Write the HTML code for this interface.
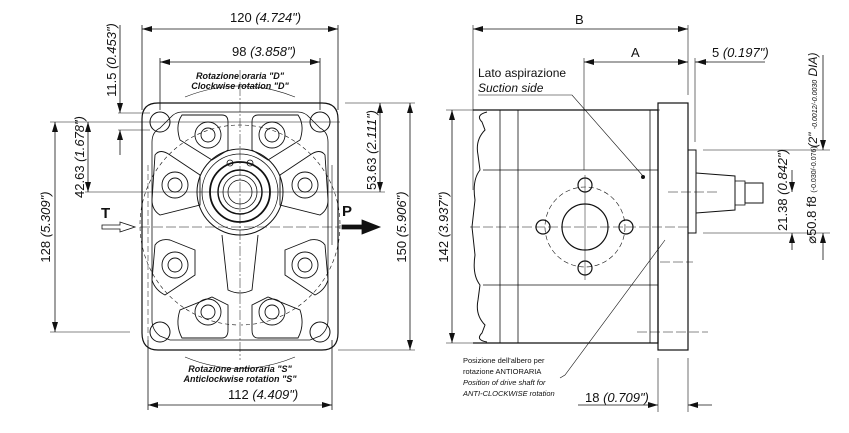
<!DOCTYPE html>
<html><head><meta charset="utf-8"><style>
html,body{margin:0;padding:0;background:#fff}
svg{display:block}
text{font-family:"Liberation Sans",sans-serif;fill:#111}
.i{font-style:italic}
</style></head><body>
<svg width="849" height="433" viewBox="0 0 849 433" xmlns="http://www.w3.org/2000/svg">
<defs>
<marker id="a" viewBox="0 0 10 6" refX="10" refY="3" markerWidth="10" markerHeight="6" orient="auto-start-reverse" markerUnits="userSpaceOnUse"><path d="M0,0 L10,3 L0,6z" fill="#111"/></marker>
</defs>
<g stroke="#111" fill="none" stroke-width="0.8">
<line x1="142" y1="25" x2="142" y2="110"/><line x1="338" y1="25" x2="338" y2="110"/>
<line x1="142" y1="29" x2="338" y2="29" marker-start="url(#a)" marker-end="url(#a)"/>
<line x1="160" y1="58" x2="160" y2="110"/><line x1="320" y1="58" x2="320" y2="110"/>
<line x1="160" y1="62" x2="320" y2="62" marker-start="url(#a)" marker-end="url(#a)"/>
<line x1="148" y1="340" x2="148" y2="410"/><line x1="332" y1="340" x2="332" y2="410"/>
<line x1="148" y1="405" x2="332" y2="405" marker-start="url(#a)" marker-end="url(#a)"/>
<line x1="50" y1="122" x2="340" y2="122" stroke-width="0.6"/>
<line x1="50" y1="332" x2="130" y2="332" stroke-width="0.6"/>
<line x1="55" y1="122" x2="55" y2="332" marker-start="url(#a)" marker-end="url(#a)"/>
<line x1="85" y1="192" x2="385" y2="192" stroke-width="0.6"/>
<line x1="88" y1="122" x2="88" y2="192" marker-start="url(#a)" marker-end="url(#a)"/>
<line x1="118" y1="113" x2="150" y2="113" stroke-width="0.6"/>
<line x1="118" y1="130" x2="150" y2="130" stroke-width="0.6"/>
<line x1="120" y1="25" x2="120" y2="113" marker-end="url(#a)"/>
<line x1="120" y1="155" x2="120" y2="130" marker-end="url(#a)"/>
<line x1="345" y1="103" x2="415" y2="103" stroke-width="0.6"/>
<line x1="338" y1="350" x2="415" y2="350" stroke-width="0.6"/>
<line x1="410" y1="103" x2="410" y2="350" marker-start="url(#a)" marker-end="url(#a)"/>
<line x1="380" y1="103" x2="380" y2="192" marker-start="url(#a)" marker-end="url(#a)"/>
<path d="M158,103 H322 Q338,103 338,119 V333 Q338,350 322,350 H158 Q142,350 142,333 V119 Q142,103 158,103Z" stroke-width="1.2"/>
<path d="M152,142 Q152,132 160,128 L170,118 Q175,112 182,112 H298 Q305,112 310,118 L320,128 Q328,132 328,142 V320 Q328,330 320,336 L310,340 H170 L160,336 Q152,330 152,320Z"/>
<circle cx="240" cy="225" r="100" stroke-dasharray="4,3" stroke-width="0.6"/>
<g stroke-width="1">
<circle cx="160" cy="122" r="10"/><circle cx="320" cy="122" r="10"/>
<circle cx="160" cy="332" r="10"/><circle cx="320" cy="332" r="10"/>
</g>
<g stroke-width="0.9">
<path d="M182,115 H222 Q228,115 228,122 V150 L212,160 L180,140 Q175,125 182,115Z"/>
<path d="M298,115 H258 Q252,115 252,122 V150 L268,160 L300,140 Q305,125 298,115Z"/>
<path d="M155,155 Q160,148 170,155 L200,175 V205 L160,215 Q152,210 152,200Z"/>
<path d="M325,155 Q320,148 310,155 L280,175 V205 L320,215 Q328,210 328,200Z"/>
<path d="M155,245 Q160,238 170,240 L195,250 V275 L165,295 Q155,290 152,280Z"/>
<path d="M325,245 Q320,238 310,240 L285,250 V275 L315,295 Q325,290 328,280Z"/>
<path d="M182,338 H222 Q228,338 228,330 V305 L212,297 L180,310 Q175,325 182,338Z"/>
<path d="M298,338 H258 Q252,338 252,330 V305 L268,297 L300,310 Q305,325 298,338Z"/>
<path d="M222,235 L228,290 Q240,296 252,290 L258,235"/>
</g>
<g stroke-width="0.9">
<circle cx="208" cy="135" r="13"/><circle cx="272" cy="135" r="13"/>
<circle cx="175" cy="185" r="13"/><circle cx="305" cy="185" r="13"/>
<circle cx="175" cy="265" r="13"/><circle cx="305" cy="265" r="13"/>
<circle cx="208" cy="312" r="13"/><circle cx="272" cy="312" r="13"/>
<circle cx="208" cy="135" r="7"/><circle cx="272" cy="135" r="7"/>
<circle cx="175" cy="185" r="7"/><circle cx="305" cy="185" r="7"/>
<circle cx="175" cy="265" r="7"/><circle cx="305" cy="265" r="7"/>
<circle cx="208" cy="312" r="7"/><circle cx="272" cy="312" r="7"/>
</g>
<circle cx="240" cy="192" r="43" stroke-width="1"/>
<circle cx="240" cy="192" r="38"/>
<circle cx="240" cy="192" r="30" stroke-width="1.8"/>
<circle cx="240" cy="192" r="22" stroke-width="1.4"/>
<circle cx="240" cy="192" r="17"/>
<circle cx="240" cy="192" r="12"/>
<circle cx="230" cy="163" r="3"/><circle cx="250" cy="163" r="3"/>
<line x1="240" y1="70" x2="240" y2="360" stroke-width="0.5" stroke-dasharray="10,2,2,2"/>
<line x1="140" y1="227" x2="340" y2="227" stroke-width="0.5" stroke-dasharray="10,3"/>
<line x1="148" y1="165" x2="148" y2="340" stroke-width="0.5" stroke-dasharray="6,3"/>
<line x1="332" y1="165" x2="332" y2="245" stroke-width="0.6"/>
<path d="M185,97 Q240,75 295,97" stroke-width="0.6"/>
<path d="M185,357 Q240,380 295,357" stroke-width="0.6"/>
<path d="M102,225 H120 V222 L135,227 L120,232 V229 H102Z" stroke-width="0.8"/>
<path d="M342,225 H362 V220 L380,227 L362,234 V229 H342Z" fill="#111"/>

<line x1="473" y1="25" x2="473" y2="190" stroke-width="0.6"/>
<line x1="688" y1="25" x2="688" y2="95" stroke-width="0.6"/>
<line x1="473" y1="29" x2="688" y2="29" marker-start="url(#a)" marker-end="url(#a)"/>
<line x1="584" y1="58" x2="584" y2="170" stroke-width="0.6"/>
<line x1="584" y1="62" x2="688" y2="62" marker-start="url(#a)" marker-end="url(#a)"/>
<line x1="695" y1="58" x2="695" y2="142" stroke-width="0.6"/>
<line x1="695" y1="62" x2="765" y2="62"/>
<line x1="708" y1="62" x2="696" y2="62" marker-end="url(#a)"/>
<line x1="446" y1="110" x2="660" y2="110" stroke-width="0.6"/>
<line x1="446" y1="343" x2="520" y2="343" stroke-width="0.6"/>
<line x1="452" y1="110" x2="452" y2="343" marker-start="url(#a)" marker-end="url(#a)"/>
<path d="M473,110 H658 V343 H473" stroke-width="1.2"/>
<path d="M487,112 Q475,115 482,122 L485,130 Q475,140 478,155 L480,170 Q472,180 475,200 L472,227 L475,255 Q472,275 480,285 L478,300 Q475,315 485,325 L482,333 Q475,340 487,342" stroke-width="1"/>
<line x1="500" y1="110" x2="500" y2="343"/>
<line x1="518" y1="110" x2="518" y2="343"/>
<line x1="650" y1="110" x2="650" y2="343"/>
<line x1="483" y1="170" x2="658" y2="170"/>
<line x1="483" y1="285" x2="658" y2="285"/>
<rect x="658" y="103" width="30" height="247" stroke-width="1.2"/>
<rect x="688" y="150" width="8" height="83" stroke-width="1"/>
<path d="M696,173 L735,176 V210 L696,213" stroke-width="1"/>
<rect x="735" y="181" width="10" height="24"/>
<rect x="745" y="183" width="18" height="20" stroke-width="1"/>
<circle cx="585" cy="227" r="23" stroke-width="1.2"/>
<circle cx="585" cy="227" r="40" stroke-dasharray="5,3" stroke-width="0.6"/>
<circle cx="585" cy="185" r="7" stroke-width="1.2"/><circle cx="585" cy="268" r="7" stroke-width="1.2"/>
<circle cx="543" cy="227" r="7" stroke-width="1.2"/><circle cx="626" cy="227" r="7" stroke-width="1.2"/>
<line x1="470" y1="227" x2="690" y2="227" stroke-width="0.5" stroke-dasharray="10,3"/>
<line x1="585" y1="175" x2="585" y2="280" stroke-width="0.5"/>
<line x1="668" y1="192" x2="720" y2="192" stroke-width="0.5" stroke-dasharray="10,3"/>
<line x1="660" y1="262" x2="693" y2="262" stroke-width="0.5" stroke-dasharray="10,3"/>
<line x1="637" y1="332" x2="708" y2="332" stroke-width="0.5" stroke-dasharray="10,3"/>
<line x1="703" y1="150" x2="830" y2="150" stroke-width="0.6"/>
<line x1="703" y1="233" x2="830" y2="233" stroke-width="0.6"/>
<line x1="792" y1="170" x2="792" y2="192" marker-end="url(#a)"/>
<line x1="792" y1="250" x2="792" y2="233" marker-end="url(#a)"/>
<line x1="823" y1="55" x2="823" y2="150" marker-end="url(#a)"/>
<line x1="823" y1="260" x2="823" y2="233" marker-end="url(#a)"/>
<line x1="658" y1="358" x2="658" y2="412" stroke-width="0.6"/>
<line x1="688" y1="358" x2="688" y2="412" stroke-width="0.6"/>
<line x1="578" y1="405" x2="658" y2="405" marker-end="url(#a)"/>
<line x1="712" y1="405" x2="688" y2="405" marker-end="url(#a)"/>
<polyline points="478,95 572,95 643,176" stroke-width="0.6"/>
<polyline points="560,378 565,375 665,240" stroke-width="0.6"/>
</g>
<circle cx="643" cy="177" r="2" fill="#111"/>
<text x="230" y="22" font-size="13">120 <tspan class="i">(4.724")</tspan></text>
<text x="232" y="56" font-size="13">98 <tspan class="i">(3.858")</tspan></text>
<text x="228" y="399" font-size="13">112 <tspan class="i">(4.409")</tspan></text>
<text transform="translate(50,227) rotate(-90)" text-anchor="middle" font-size="13">128 <tspan class="i">(5.309")</tspan></text>
<text transform="translate(84,157) rotate(-90)" text-anchor="middle" font-size="13">42.63 <tspan class="i">(1.678")</tspan></text>
<text transform="translate(116,60) rotate(-90)" text-anchor="middle" font-size="13">11.5 <tspan class="i">(0.453")</tspan></text>
<text transform="translate(376,150) rotate(-90)" text-anchor="middle" font-size="13">53.63 <tspan class="i">(2.111")</tspan></text>
<text transform="translate(406,227) rotate(-90)" text-anchor="middle" font-size="13">150 <tspan class="i">(5.906")</tspan></text>
<text x="101" y="218" font-size="15" font-weight="bold">T</text>
<text x="342" y="216" font-size="15" font-weight="bold">P</text>
<text x="240" y="79" font-size="9" text-anchor="middle" font-weight="bold" class="i">Rotazione oraria "D"</text>
<text x="240" y="89" font-size="9" text-anchor="middle" font-weight="bold" class="i">Clockwise rotation "D"</text>
<text x="240" y="372" font-size="9" text-anchor="middle" font-weight="bold" class="i">Rotazione antioraria "S"</text>
<text x="240" y="382" font-size="9" text-anchor="middle" font-weight="bold" class="i">Anticlockwise rotation "S"</text>
<text x="575" y="24" font-size="13">B</text>
<text x="631" y="57" font-size="13">A</text>
<text x="712" y="57" font-size="13">5 <tspan class="i">(0.197")</tspan></text>
<text x="478" y="77" font-size="12">Lato aspirazione</text>
<text x="478" y="92" font-size="12" class="i">Suction side</text>
<text transform="translate(448,227) rotate(-90)" text-anchor="middle" font-size="13">142 <tspan class="i">(3.937")</tspan></text>
<text x="463" y="363" font-size="7.5">Posizione dell'albero per</text>
<text x="463" y="374" font-size="7.5">rotazione ANTIORARIA</text>
<text x="463" y="385" font-size="7.5" class="i">Position of drive shaft for</text>
<text x="463" y="396" font-size="7.5" class="i">ANTI-CLOCKWISE rotation</text>
<text x="585" y="402" font-size="13">18 <tspan class="i">(0.709")</tspan></text>
<text transform="translate(787,190) rotate(-90)" text-anchor="middle" font-size="13">21.38 <tspan class="i">(0.842")</tspan></text>
<text transform="translate(816,195) rotate(-90)" text-anchor="middle" font-size="13">⌀50.8 f8 <tspan font-size="7">(-0.030/-0.076)</tspan></text>
<text transform="translate(817,100) rotate(-90)" text-anchor="middle" font-size="12" class="i">(2" <tspan font-size="7">-0.0012/-0.0030</tspan> DIA)</text>
</svg>
</body></html>
